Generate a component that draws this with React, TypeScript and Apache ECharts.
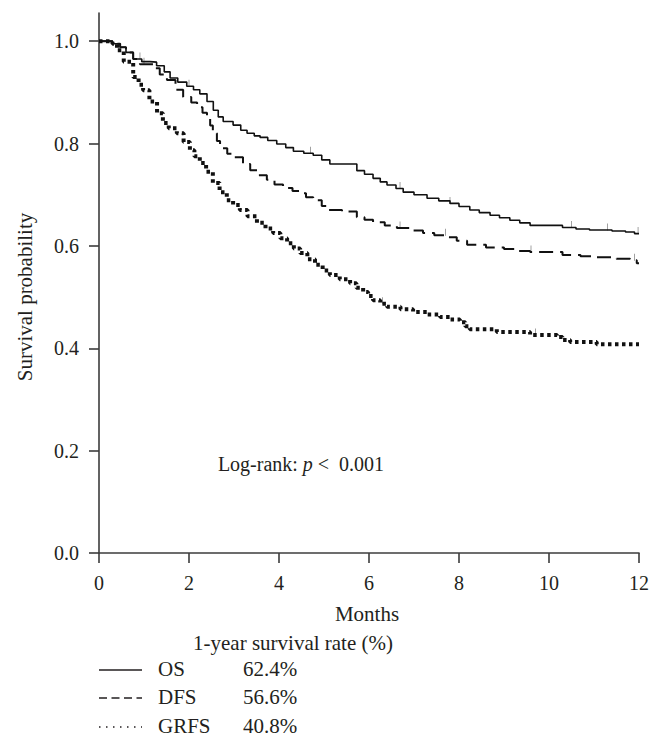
import React, { useEffect, useRef } from "react";
import * as echarts from "echarts";

// ---- Data ----
const osTimes = [0, 0.3, 0.47, 0.6, 0.76, 0.95, 1.13, 1.28, 1.45, 1.58, 1.75, 1.95, 2.1, 2.24, 2.4, 2.54, 2.65, 2.76, 2.98, 3.15, 3.29, 3.45, 3.58, 3.75, 3.95, 4.15, 4.32, 4.55, 4.76, 4.95, 5.13, 5.73, 5.9, 6.09, 6.25, 6.4, 6.6, 6.76, 7.0, 7.29, 7.55, 7.8, 8.0, 8.24, 8.45, 8.69, 8.9, 9.13, 9.35, 9.58, 10.3, 10.6, 10.9, 11.4, 11.7, 11.9, 12];
const osSurv = [1.0, 0.995, 0.988, 0.978, 0.965, 0.96, 0.959, 0.952, 0.94, 0.928, 0.92, 0.912, 0.905, 0.897, 0.882, 0.865, 0.852, 0.843, 0.836, 0.826, 0.82, 0.815, 0.812, 0.806, 0.799, 0.792, 0.785, 0.781, 0.777, 0.768, 0.76, 0.747, 0.74, 0.732, 0.725, 0.719, 0.712, 0.705, 0.7, 0.693, 0.688, 0.683, 0.677, 0.67, 0.665, 0.66, 0.655, 0.65, 0.645, 0.64, 0.636, 0.633, 0.631, 0.629, 0.627, 0.624, 0.624];

const dfsTimes = [0, 0.3, 0.47, 0.6, 0.76, 0.91, 1.2, 1.35, 1.51, 1.7, 1.87, 2.05, 2.18, 2.3, 2.4, 2.47, 2.53, 2.62, 2.69, 2.85, 2.98, 3.2, 3.36, 3.55, 3.73, 3.9, 4.09, 4.3, 4.47, 4.6, 4.76, 4.95, 5.07, 5.4, 5.73, 5.9, 6.09, 6.35, 6.62, 6.9, 7.2, 7.45, 7.73, 7.95, 8.18, 8.6, 9.0, 9.3, 9.58, 10.3, 10.7, 11.06, 11.5, 11.8, 11.95, 12];
const dfsSurv = [1.0, 0.995, 0.988, 0.978, 0.965, 0.955, 0.947, 0.935, 0.924, 0.905, 0.891, 0.88, 0.871, 0.86, 0.85, 0.835, 0.82, 0.805, 0.791, 0.78, 0.773, 0.76, 0.748, 0.738, 0.729, 0.72, 0.713, 0.707, 0.703, 0.695, 0.689, 0.678, 0.67, 0.667, 0.656, 0.651, 0.646, 0.64, 0.635, 0.63, 0.625, 0.621, 0.617, 0.61, 0.602, 0.597, 0.594, 0.59, 0.588, 0.582, 0.58, 0.578, 0.575, 0.572, 0.566, 0.566];

const grfsTimes = [0, 0.3, 0.4, 0.55, 0.76, 0.88, 0.98, 1.12, 1.29, 1.42, 1.55, 1.73, 1.88, 2.02, 2.12, 2.24, 2.38, 2.53, 2.68, 2.84, 2.98, 3.13, 3.3, 3.51, 3.7, 3.87, 4.03, 4.18, 4.33, 4.47, 4.63, 4.8, 4.97, 5.13, 5.35, 5.58, 5.72, 5.87, 5.98, 6.09, 6.25, 6.4, 6.7, 6.98, 7.3, 7.58, 7.8, 8.02, 8.14, 8.24, 8.84, 9.58, 10.18, 10.3, 10.47, 11.06, 12];
const grfsSurv = [1.0, 0.995, 0.982, 0.96, 0.93, 0.915, 0.904, 0.882, 0.859, 0.84, 0.83, 0.82, 0.803, 0.787, 0.775, 0.762, 0.745, 0.723, 0.705, 0.689, 0.68, 0.67, 0.658, 0.645, 0.634, 0.625, 0.615, 0.605, 0.595, 0.586, 0.574, 0.563, 0.552, 0.543, 0.535, 0.527, 0.518, 0.51, 0.502, 0.494, 0.487, 0.481, 0.476, 0.471, 0.466, 0.461, 0.456, 0.451, 0.443, 0.437, 0.432, 0.426, 0.422, 0.416, 0.412, 0.408, 0.408];

const osCensorTimes = [0.91, 2.0, 4.7, 6.69, 7.8, 10.5, 11.3, 11.98];
const dfsCensorTimes = [1.0, 6.69, 7.7, 9.6, 11.9];
const grfsCensorTimes = [6.3, 9.7];

const xTicks = [0, 2, 4, 6, 8, 10, 12];
const yTicks = [0, 0.2, 0.4, 0.6, 0.8, 1.0];

const seriesNames = ["OS", "DFS", "GRFS"];
const oneYearRates = ["62.4%", "56.6%", "40.8%"];

const FONT = "'Liberation Serif', 'DejaVu Serif', serif";
const TEXT = "#231f20";
const AXIS = "#3c3c3c";

function pairs(t: number[], s: number[]) {
  return t.map((v, i) => [v, s[i]]);
}
function stepAt(t: number[], s: number[], x: number) {
  let idx = 0;
  for (let i = 0; i < t.length; i++) if (t[i] <= x) idx = i;
  return s[idx];
}
function censor(ct: number[], t: number[], s: number[]) {
  return ct.map((x) => [x, stepAt(t, s, x)]);
}

export default function App() {
  const ref = useRef<HTMLDivElement>(null);
  useEffect(() => {
    if (!ref.current) return;
    const chart = echarts.init(ref.current, null, { renderer: "svg" });
    const legendY = [670, 698, 727];
    const legendDash: any[] = [null, [8, 4.5], [1.5, 5.5]];
    const graphics: any[] = [
      {
        type: "text",
        x: 25,
        y: 297,
        rotation: Math.PI / 2,
        style: { text: "Survival probability", font: `21px ${FONT}`, fill: TEXT, align: "center", verticalAlign: "middle" },
      },
      {
        type: "text",
        x: 367,
        y: 614,
        style: { text: "Months", font: `21px ${FONT}`, fill: TEXT, align: "center", verticalAlign: "middle" },
      },
      {
        type: "text",
        x: 301,
        y: 464,
        style: {
          text: "Log-rank: {i|p} <  0.001",
          font: `20px ${FONT}`,
          fill: TEXT,
          align: "center",
          verticalAlign: "middle",
          rich: { i: { fontStyle: "italic", fontFamily: FONT, fontSize: 20, fill: TEXT } },
        },
      },
      {
        type: "text",
        x: 293,
        y: 643,
        style: { text: "1-year survival rate (%)", font: `21px ${FONT}`, fill: TEXT, align: "center", verticalAlign: "middle" },
      },
    ];
    seriesNames.forEach((n, i) => {
      graphics.push({
        type: "line",
        shape: { x1: 99, y1: legendY[i], x2: 142, y2: legendY[i] },
        style: { stroke: TEXT, lineWidth: 1.3, lineDash: legendDash[i] || undefined },
      });
      graphics.push({
        type: "text",
        x: 158,
        y: legendY[i] - 1,
        style: { text: n, font: `21px ${FONT}`, fill: TEXT, verticalAlign: "middle" },
      });
      graphics.push({
        type: "text",
        x: 243,
        y: legendY[i] - 1,
        style: { text: oneYearRates[i], font: `21px ${FONT}`, fill: TEXT, verticalAlign: "middle" },
      });
    });
    graphics.push({
      type: "rect",
      z: 100,
      shape: { x: 0, y: 733, width: 662, height: 11 },
      style: { fill: "#ffffff" },
    });

    const censorSeries = (data: number[][]) => ({
      type: "scatter",
      data,
      symbol: "rect",
      symbolSize: [1, 7],
      symbolOffset: [0, -3],
      itemStyle: { color: "#8a8a8a" },
      silent: true,
      z: 1,
    });

    chart.setOption({
      animation: false,
      backgroundColor: "#ffffff",
      grid: { left: 99, right: 23, top: 13, bottom: 191, containLabel: false },
      xAxis: {
        type: "value",
        min: 0,
        max: 12,
        interval: 2,
        axisLine: { show: true, onZero: false, lineStyle: { color: AXIS, width: 1.6 } },
        axisTick: { show: true, length: 10, lineStyle: { color: AXIS, width: 1.6 } },
        axisLabel: { show: true, margin: 20, color: TEXT, fontFamily: FONT, fontSize: 20, customValues: xTicks },
        splitLine: { show: false },
      },
      yAxis: {
        type: "value",
        min: 0,
        max: 1.055,
        axisLine: { show: true, onZero: false, lineStyle: { color: AXIS, width: 1.6 } },
        axisTick: { show: true, length: 10, lineStyle: { color: AXIS, width: 1.6 }, customValues: yTicks },
        axisLabel: {
          show: true,
          margin: 20,
          color: TEXT,
          fontFamily: FONT,
          fontSize: 20,
          customValues: yTicks,
          formatter: (v: number) => v.toFixed(1),
        },
        splitLine: { show: false },
      },
      graphic: graphics,
      series: [
        {
          name: "OS",
          type: "line",
          step: "end",
          data: pairs(osTimes, osSurv),
          showSymbol: false,
          lineStyle: { color: "#111", width: 1.6, type: "solid" },
          z: 3,
        },
        {
          name: "DFS",
          type: "line",
          step: "end",
          data: pairs(dfsTimes, dfsSurv),
          showSymbol: false,
          lineStyle: { color: "#111", width: 2, type: [14, 7] },
          z: 3,
        },
        {
          name: "GRFS",
          type: "line",
          step: "end",
          data: pairs(grfsTimes, grfsSurv),
          showSymbol: false,
          lineStyle: { color: "#111", width: 4, type: [3.5, 3.5], cap: "butt" },
          z: 3,
        },
        censorSeries(censor(osCensorTimes, osTimes, osSurv)),
        censorSeries(censor(dfsCensorTimes, dfsTimes, dfsSurv)),
        censorSeries(censor(grfsCensorTimes, grfsTimes, grfsSurv)),
      ],
    });
    return () => chart.dispose();
  }, []);
  return (
    <div
      ref={ref}
      style={{ position: "absolute", left: 0, top: 0, width: 662, height: 744, background: "#fff" }}
    />
  );
}
